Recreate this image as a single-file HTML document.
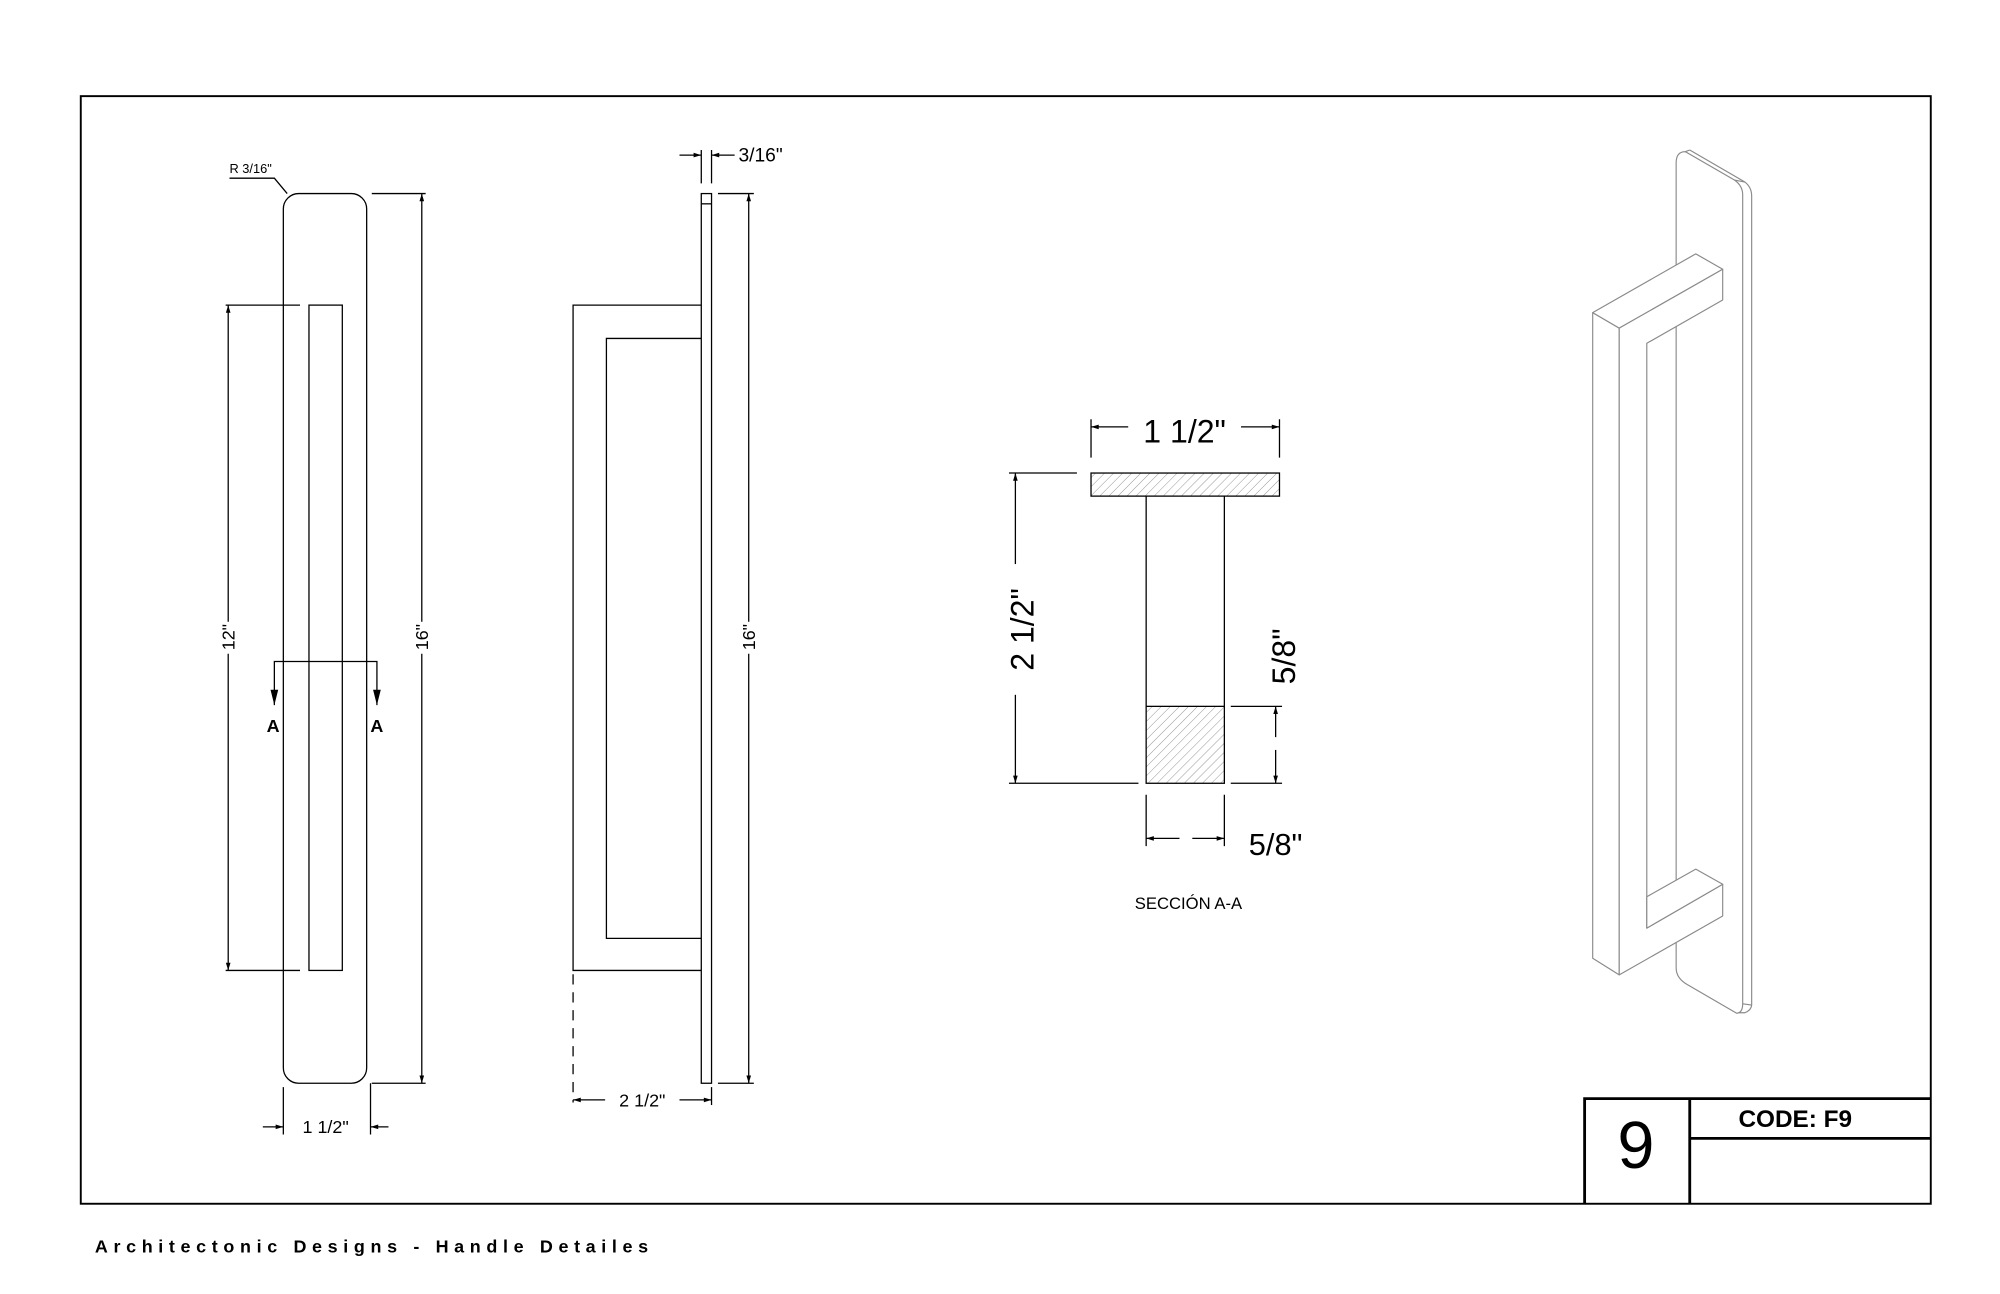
<!DOCTYPE html>
<html><head><meta charset="utf-8"><style>
html,body{margin:0;padding:0;background:#fff;}
svg{display:block;}
text{font-family:"Liberation Sans",Arial,sans-serif;fill:#000;}
</style></head><body>
<svg width="2000" height="1294" viewBox="0 0 1560 1009.4" preserveAspectRatio="none" xmlns="http://www.w3.org/2000/svg">
<defs>
<marker id="ar" viewBox="0 0 10 10" refX="10" refY="5" markerWidth="8" markerHeight="6" orient="auto-start-reverse" markerUnits="userSpaceOnUse"><path d="M0,2 L10,5 L0,8 z" fill="#000"/></marker>
<pattern id="h" width="5" height="5" patternUnits="userSpaceOnUse" patternTransform="rotate(45)"><line x1="0" y1="0" x2="0" y2="5" stroke="#777" stroke-width="0.6"/></pattern>
</defs>
<rect x="0" y="0" width="1560" height="1010" fill="#fff"/>
<g fill="none" stroke="#000" stroke-width="1">
<rect x="63" y="75" width="1443" height="864" stroke-width="1.5"/>
<path d="M1236,939 V857 H1506 M1318,857 V939 M1318,888 H1506" stroke-width="2.2"/>

<rect x="221" y="151" width="65" height="694" rx="12"/>
<rect x="241" y="238" width="26" height="519"/>
<path d="M179,139 H214 L224,151"/>
<path d="M176,238 H234 M176,757 H234"/>
<path d="M178,485 V238" marker-end="url(#ar)"/><path d="M178,510 V757" marker-end="url(#ar)"/>
<path d="M290,151 H332 M290,845 H332"/>
<path d="M329,485 V151" marker-end="url(#ar)"/><path d="M329,510 V845" marker-end="url(#ar)"/>
<path d="M214,550 V516 H294 V550"/>
<path d="M221,848 V885 M289,845 V885"/>
<path d="M205,879 H221" marker-end="url(#ar)"/><path d="M303,879 H289" marker-end="url(#ar)"/>

<rect x="547" y="151" width="8" height="694"/>
<path d="M547,159 H555"/>
<path d="M547,238 H447 V757 H547 M547,264 H473 V732 H547"/>
<path d="M447,760 V860" stroke-dasharray="8,6"/>
<path d="M547,117 V143 M555,117 V143"/>
<path d="M530,121 H547" marker-end="url(#ar)"/><path d="M573,121 H555" marker-end="url(#ar)"/>
<path d="M560,151 H588 M560,845 H588"/>
<path d="M584,485 V151" marker-end="url(#ar)"/><path d="M584,510 V845" marker-end="url(#ar)"/>
<path d="M555,848 V862"/>
<path d="M472,858 H447" marker-end="url(#ar)"/><path d="M530,858 H555" marker-end="url(#ar)"/>

<rect x="851" y="369" width="147" height="18" fill="url(#h)"/>
<path d="M894,387 V551 M955,387 V551"/>
<rect x="894" y="551" width="61" height="60" fill="url(#h)"/>
<path d="M851,327 V357 M998,327 V357"/>
<path d="M880,333 H851" marker-end="url(#ar)"/><path d="M968,333 H998" marker-end="url(#ar)"/>
<path d="M787,369 H840 M787,611 H888"/>
<path d="M792,440 V369" marker-end="url(#ar)"/><path d="M792,542 V611" marker-end="url(#ar)"/>
<path d="M960,551 H1000 M960,611 H1000"/>
<path d="M995,575 V551" marker-end="url(#ar)"/><path d="M995,585 V611" marker-end="url(#ar)"/>
<path d="M894,620 V660 M955,620 V660"/>
<path d="M920,654 H894" marker-end="url(#ar)"/><path d="M930,654 H955" marker-end="url(#ar)"/>
</g>
<path d="M211,538 L214,550 L217,538 z M291,538 L294,550 L297,538 z" fill="#000"/>

<g stroke="#8a8a8a" stroke-width="0.9" fill="#fff" stroke-linejoin="round">
<path d="M1318,117 L1361,142 Q1366.3,146 1366.3,153 V784 Q1366,788 1361,790 L1355,790"/>
<path d="M1307.4,755 V127 Q1307.4,118.3 1314.5,118.3 L1353,140.5 Q1359.3,145 1359.3,152 V783 Q1359.3,790 1354.6,790.4 L1316,768 Q1307.4,763 1307.4,755 z"/>
<path d="M1314.5,118.3 L1318,117 M1353,140.5 L1361,142 M1359.3,783 L1366.3,784"/>
<path d="M1242.3,243.9 L1263,256 L1263,760.5 L1242.3,747.5 z"/>
<path d="M1242.3,243.9 L1322.7,198 L1343.7,210 L1263,256 z"/>
<path d="M1263,256 L1343.7,210 L1343.7,234 L1284.5,267.8 L1284.5,724 L1343.7,689.8 L1343.7,714.5 L1263,760.5 z"/>
<path d="M1284.5,699.5 L1322.7,678 L1343.7,689.8 L1284.5,724 z"/>
</g>

<text x="179" y="135" font-size="10">R 3/16"</text>
<text transform="translate(183,497) rotate(-90)" font-size="14" text-anchor="middle">12"</text>
<text transform="translate(334,497) rotate(-90)" font-size="14" text-anchor="middle">16"</text>
<text transform="translate(589,497) rotate(-90)" font-size="14" text-anchor="middle">16"</text>
<text x="213" y="571" font-size="14" font-weight="bold" text-anchor="middle">A</text>
<text x="294" y="571" font-size="14" font-weight="bold" text-anchor="middle">A</text>
<text x="254" y="884" font-size="14" text-anchor="middle">1 1/2"</text>
<text x="576" y="126" font-size="15">3/16"</text>
<text x="501" y="863" font-size="14" text-anchor="middle">2 1/2"</text>
<text x="924" y="345" font-size="25" text-anchor="middle">1 1/2"</text>
<text transform="translate(806,491) rotate(-90)" font-size="25" text-anchor="middle">2 1/2"</text>
<text transform="translate(1010,512) rotate(-90)" font-size="25" text-anchor="middle">5/8"</text>
<text x="995" y="667" font-size="24" text-anchor="middle">5/8"</text>
<text x="927" y="709" font-size="13" text-anchor="middle">SECCIÓN A-A</text>
<text x="1276" y="911" font-size="52" text-anchor="middle">9</text>
<text x="1356" y="879" font-size="19" font-weight="bold">CODE: F9</text>
<text x="74" y="977" font-size="14" font-weight="bold" letter-spacing="4.4">Architectonic Designs - Handle Detailes</text>
</svg>
</body></html>
